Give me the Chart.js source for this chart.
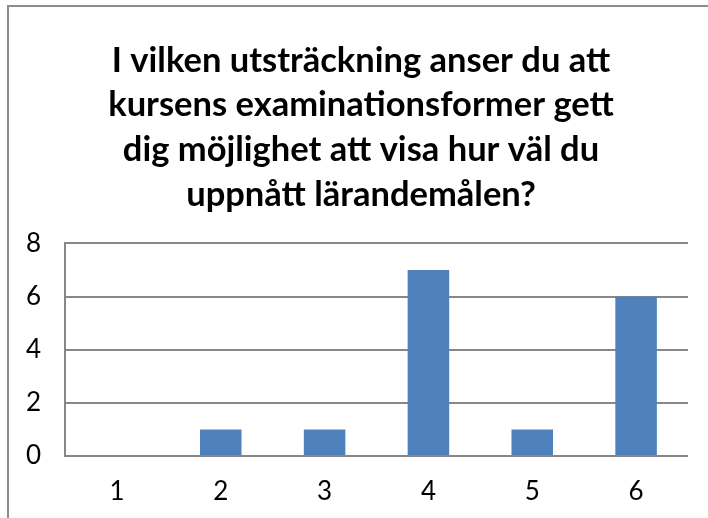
<!DOCTYPE html>
<html>
<head>
<meta charset="utf-8">
<script src="https://cdn.jsdelivr.net/npm/chart.js@4/dist/chart.umd.min.js"></script>
<style>
html,body{margin:0;padding:0;background:#fff;overflow:hidden;}
#wrap{position:absolute;left:0;top:0;width:708px;height:518px;}
#frame{position:absolute;left:7px;top:5px;width:720px;height:530px;border-left:2px solid #8c8c8c;border-top:2px solid #8c8c8c;box-sizing:border-box;pointer-events:none;}
</style>
</head>
<body>
<div id="wrap"><canvas id="c" width="708" height="518"></canvas><div id="frame"></div></div>
<script>
const titleLines = ["I vilken utsträckning anser du att", "kursens examinationsformer gett", "dig möjlighet att visa hur väl du", "uppnått lärandemålen?"];
const categories = ["1", "2", "3", "4", "5", "6"];
const values = [0, 1, 1, 7, 1, 6];
const yTicks = [0, 2, 4, 6, 8];

const gridColor = '#878787';
const fam = 'Lato, "Open Sans", sans-serif';
Chart.defaults.font.family = fam;
Chart.defaults.font.size = 26;
Chart.defaults.color = '#000';
new Chart(document.getElementById('c'), {
  type: 'bar',
  data: {
    labels: categories,
    datasets: [{
      data: values,
      backgroundColor: '#4F81BD',
      borderWidth: 0,
      barPercentage: 0.4,
      categoryPercentage: 1.0
    }]
  },
  options: {
    responsive: false,
    animation: false,
    devicePixelRatio: 1,
    layout: { padding: { left: 14, right: 0, top: 0, bottom: 0 } },
    plugins: {
      legend: { display: false },
      tooltip: { enabled: false },
      title: {
        display: true,
        text: titleLines,
        color: '#000',
        font: { family: fam, size: 34.5, weight: 'bold', lineHeight: 1.3 },
        padding: { top: 38, bottom: 26 }
      }
    },
    scales: {
      x: {
        afterFit: s => { s.height = 62; },
        grid: { display: false, drawTicks: false },
        border: { display: false },
        ticks: { color: '#000', font: { family: fam, size: 26 }, padding: 20 }
      },
      y: {
        min: 0, max: 8,
        afterFit: s => { s.width = 51; },
        afterBuildTicks: s => { s.ticks = yTicks.map(v => ({ value: v })); },
        grid: { color: gridColor, lineWidth: 2, drawTicks: false },
        border: { display: true, color: gridColor, width: 2 },
        ticks: { color: '#000', font: { family: fam, size: 26 }, padding: 24 }
      },
      yRight: {
        position: 'right',
        min: 0, max: 8,
        afterFit: s => { s.width = 20; },
        grid: { display: false, drawTicks: false },
        border: { display: false },
        ticks: { display: false }
      }
    }
  }
});
</script>
</body>
</html>
